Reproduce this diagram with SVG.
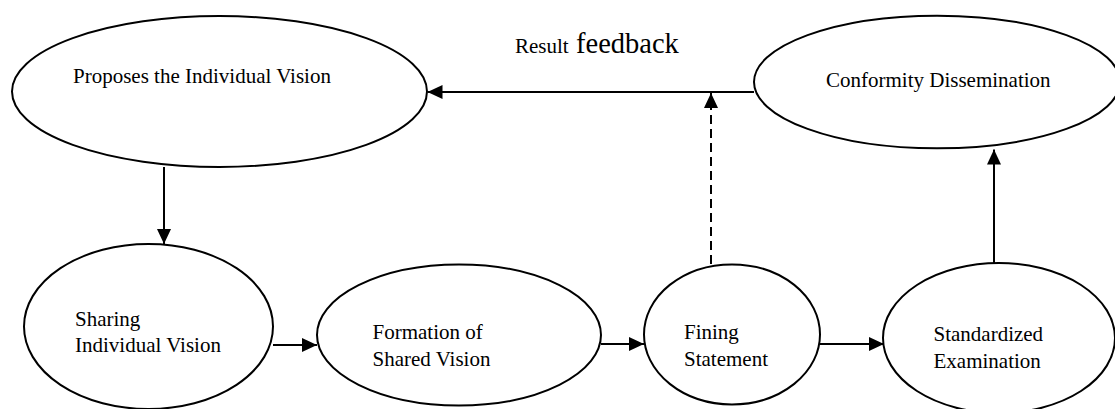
<svg xmlns="http://www.w3.org/2000/svg" width="1115" height="409" viewBox="0 0 1115 409" font-family="'Liberation Serif', 'Times New Roman', Times, serif">
<style>
.node ellipse{fill:#fff;stroke:#000;stroke-width:2}
text{font-family:'Liberation Serif','Times New Roman',Times,serif;font-size:21px;fill:#000}
.conn line{stroke:#000;stroke-width:2}
.dash{stroke-dasharray:9,5}
</style>
<defs>
<marker id="arr" markerUnits="userSpaceOnUse" markerWidth="15" markerHeight="14" refX="15" refY="7" orient="auto">
<path d="M0,0 L15,7 L0,14 z" fill="#000"/>
</marker>
</defs>
<rect width="1115" height="409" fill="#fff"/>
<g id="proposes" class="node">
<ellipse cx="219.5" cy="91.5" rx="207.5" ry="75.5"/>
<text x="73" y="83">Proposes the Individual Vision</text>
</g>
<g id="conformity" class="node">
<ellipse cx="937" cy="82" rx="183" ry="66.3"/>
<text x="826" y="87">Conformity Dissemination</text>
</g>
<g id="sharing" class="node">
<ellipse cx="148.5" cy="326.5" rx="124.5" ry="82.5"/>
<text x="75" y="326">Sharing</text>
<text x="75" y="352">Individual Vision</text>
</g>
<g id="formation" class="node">
<ellipse cx="459" cy="335" rx="142" ry="70.5"/>
<text x="372.5" y="339">Formation of</text>
<text x="372.5" y="366">Shared Vision</text>
</g>
<g id="fining" class="node">
<ellipse cx="732" cy="334.4" rx="88" ry="70"/>
<text x="684" y="339">Fining</text>
<text x="684" y="365.5">Statement</text>
</g>
<g id="standardized" class="node">
<ellipse cx="999" cy="338" rx="116" ry="75"/>
<text x="933.5" y="341">Standardized</text>
<text x="933.5" y="367.5">Examination</text>
</g>
<g id="label">
<text x="515" y="53">Result</text>
<text x="576" y="53" style="font-size:28.5px">feedback</text>
</g>
<g id="connectors" class="conn">
<line x1="164" y1="167" x2="164" y2="244" marker-end="url(#arr)"/>
<line x1="273" y1="345" x2="317" y2="345" marker-end="url(#arr)"/>
<line x1="601" y1="344" x2="644" y2="344" marker-end="url(#arr)"/>
<line x1="820" y1="344" x2="884" y2="344" marker-end="url(#arr)"/>
<line x1="994" y1="263" x2="994" y2="149.5" marker-end="url(#arr)"/>
<line x1="754" y1="92" x2="427.5" y2="92" marker-end="url(#arr)"/>
<line class="dash" x1="711" y1="264" x2="711" y2="93" marker-end="url(#arr)"/>
</g>
</svg>
